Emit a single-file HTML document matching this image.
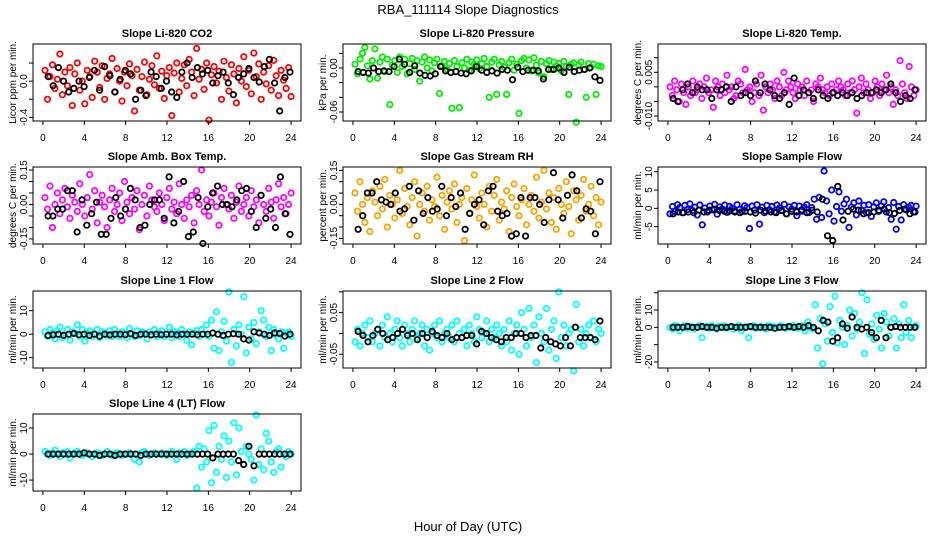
<!DOCTYPE html>
<html><head><meta charset="utf-8"><title>RBA_111114 Slope Diagnostics</title>
<style>
html,body{margin:0;padding:0;background:#fff;}
svg{display:block;font-family:"Liberation Sans",Arial,sans-serif;}
</style></head>
<body>
<svg id="chart" width="936" height="540" viewBox="0 0 936 540" xmlns="http://www.w3.org/2000/svg">
<rect x="0" y="0" width="936" height="540" fill="#fff"/>
<text x="468" y="14" text-anchor="middle" font-size="13">RBA_111114  Slope Diagnostics</text>
<text x="468" y="531" text-anchor="middle" font-size="13">Hour of Day (UTC)</text>
</svg>
<script>
// ---- shared x axis ----
const xTicks = [0,4,8,12,16,20,24];
const xTickLabels = ['0','4','8','12','16','20','24'];

// ---- CO2 ----
const co2Color = [0.12,-0.2,0.05,0.18,-0.08,0.02,0.3,-0.15,0.1,-0.05,0.15,-0.27,0.08,0.2,-0.1,0.0,-0.25,0.12,0.05,-0.18,0.22,0.1,-0.07,0.17,-0.2,0.03,0.08,0.25,-0.12,0.14,0.0,-0.22,0.1,-0.05,0.19,0.06,-0.33,0.13,-0.1,0.05,0.21,-0.15,0.02,0.17,-0.04,0.28,-0.08,0.11,-0.19,0.06,0.15,-0.38,0.09,0.2,-0.12,0.03,0.18,-0.05,0.24,0.1,-0.16,0.36,0.02,0.13,-0.09,0.2,-0.43,0.07,0.16,-0.02,0.11,-0.2,0.22,0.04,-0.11,0.18,0.08,-0.24,0.14,0.0,0.27,-0.06,0.12,-0.14,0.31,0.05,0.19,-0.2,0.1,-0.03,0.17,-0.1,0.23,0.06,-0.16,0.12,0.01,-0.08,0.15,-0.17];
const co2Black = [0.05,-0.05,0.15,0.0,-0.12,-0.08,0.0,-0.06,0.04,0.12,-0.1,0.16,0.06,-0.12,0.02,0.12,0.08,-0.2,-0.1,-0.16,0.1,0.05,-0.08,0.0,-0.12,-0.18,0.1,0.2,0.04,0.15,0.08,0.12,-0.02,0.06,0.1,-0.02,-0.15,0.04,0.08,0.14,0.04,-0.01,0.16,0.24,-0.02,-0.33,0.04,0.1];
const co2Ticks = [-0.4,-0.2,0,0.2];
const co2TickLabels = ['-0.4','','0.0',''];

// ---- Pressure ----
const presColor = [0.005,-0.008,0.012,0.02,0.028,0.003,-0.015,0.01,0.026,-0.014,0.008,0.015,-0.005,0.012,-0.05,0.004,0.01,-0.006,0.015,0.002,0.012,-0.008,0.006,0.013,-0.002,0.01,-0.018,0.008,0.015,0.0,0.011,-0.004,0.007,0.012,-0.035,0.003,0.009,-0.002,0.006,-0.055,0.01,0.002,-0.054,0.007,0.0,0.012,-0.003,0.008,0.005,0.011,-0.001,0.006,0.013,0.002,-0.04,0.008,0.012,-0.036,0.004,0.009,0.001,-0.036,0.007,0.012,-0.003,0.005,-0.062,0.01,0.013,0.0,0.011,-0.004,0.014,0.004,-0.007,0.009,-0.012,0.006,0.01,-0.002,0.008,0.003,0.006,-0.004,0.009,0.002,-0.036,0.005,0.007,-0.074,0.004,0.008,-0.002,-0.04,0.006,0.001,0.005,-0.036,0.003,0.002];
const presBlack = [-0.005,-0.006,-0.007,0.0,-0.005,-0.004,-0.005,0.002,0.012,0.005,-0.006,0.003,-0.007,-0.01,-0.011,-0.008,0.002,-0.004,-0.006,-0.005,-0.007,-0.008,-0.004,0.002,-0.003,-0.006,-0.004,-0.007,-0.002,-0.003,-0.016,0.001,-0.005,-0.003,-0.003,-0.004,-0.015,-0.002,-0.002,0.0,-0.006,0.001,-0.005,-0.003,-0.002,0.0,-0.012,-0.017];
const presTicks = [-0.06,-0.04,-0.02,0,0.02];
const presTickLabels = ['-0.06','','','0.00',''];

// ---- Li-820 Temp (values in 1e-3 degC/min) ----
const tempColor = [0,-3,2,-1,-5,1,-2,-6,0,-3,2,-2,-1,1,-4,0,3,-2,-1,-7,2,0,-3,1,-2,4,-1,0,-4,-3,2,1,-2,6,-1,0,-5,-2,1,-3,4,-8,0,-2,1,-1,-4,2,0,-3,5,-1,2,0,-2,-4,1,-1,0,-3,2,-2,-1,-5,1,0,3,-1,-2,0,-3,1,-2,-1,2,0,-1,-3,1,-2,2,-1,-9,0,3,-2,1,-1,-4,-2,2,0,-3,1,-1,4,-2,0,-6,-1,-3,9,1,-2,-4,7,0,-3,-1];
const tempBlack = [-4,-5,-1,1,-2,0,-1,-1,-4,-1,-1,0,-5,0,-3,-2,-3,2,-2,1,-1,-3,-4,-2,-6,3,-3,-1,-2,-4,-1,-3,-4,-2,-3,-2,-3,-2,-4,-3,-2,-2,-1,-2,-1,1,-2,-5,-3,-4,-1];
const tempTicks = [-0.01,-0.005,0,0.005,0.01];
const tempTickLabels = ['-0.010','','','0.005',''];

// ---- Amb Box Temp (values in 0.01 degC/min) ----
const ambColor = [3,-2,8,-10,0,5,-4,2,7,-1,-6,4,1,-3,9,0,-5,3,13,-2,6,-8,1,4,-1,-10,2,7,-3,0,5,-7,10,1,-4,3,-2,6,-11,0,4,-5,8,2,-1,-3,5,0,-7,3,7,-2,1,-4,9,0,-6,2,-1,4,-8,6,0,15,-3,2,-5,1,5,-1,-9,3,7,0,-2,4,-6,1,8,-3,0,3,-5,6,-1,2,-8,4,0,-3,7,1,-6,2,9,-1,3,-4,0,5];
const ambBlack = [-5,-5,-2,-2,6,6,-12,2,-9,-4,1,-13,-13,-6,3,-5,-2,7,2,-10,-9,0,2,2,-6,12,-8,-3,10,-14,-12,3,-17,-1,5,8,0,0,-1,2,6,7,-3,-10,4,-6,-2,-10,12,-4,-13];
const ambTicks = [-0.15,-0.1,-0.05,0,0.05,0.1,0.15];
const ambTickLabels = ['-0.15','','','0.00','','','0.15'];

// ---- Gas Stream RH (values in 0.01 %/min) ----
const rhColor = [5,-3,10,0,-8,3,-12,6,1,-5,8,-2,11,-10,4,0,-6,2,15,-4,7,-1,-9,3,10,-14,0,5,-3,8,-7,2,-1,12,-5,4,-11,1,6,-2,9,-8,0,3,-16,7,-4,2,13,-1,-6,5,0,-10,8,-3,4,11,-7,1,-2,6,-12,3,9,-1,-5,2,7,-9,0,4,-3,12,-6,1,15,-2,5,-8,3,-11,7,0,-4,10,-1,-13,6,2,-7,4,11,-3,0,8,-5,3,-9,1];
const rhBlack = [-11,-5,5,5,10,2,1,0,5,-3,-2,8,-7,6,-4,3,-3,-2,8,-5,3,-1,5,-11,-4,0,2,-9,6,8,-3,-5,-4,-14,-13,3,-14,3,3,0,-8,2,14,2,-6,4,13,6,-6,-2,-3,-13,10];
const rhTicks = [-0.15,-0.1,-0.05,0,0.05,0.1,0.15];
const rhTickLabels = ['-0.15','','','0.00','','','0.15'];

// ---- Sample Flow ----
const sfColor = [-1.5,0.5,-0.8,1.0,0.2,-1.2,0.8,-0.3,1.2,-0.6,0.3,-1.8,0.9,-4.5,0.1,-1.0,0.6,-0.4,1.1,-1.6,0.4,-0.2,0.9,-1.1,0.5,0.0,-0.7,1.0,-0.3,-0.9,0.7,0.2,-5.5,0.6,-0.5,1.0,-4.3,0.3,-1.2,0.8,-0.4,0.5,-1.0,0.9,0.1,-0.6,1.1,-1.5,0.4,-0.2,0.8,-2.0,0.6,-0.8,0.3,1.0,-1.1,0.2,2.5,-3.0,3.0,-2.5,10.2,2.0,-1.5,5.0,-3.5,0.5,4.5,-0.8,1.2,2.5,-5.2,0.3,1.5,-1.8,2.0,-0.5,0.8,-1.2,1.0,-2.2,0.4,1.5,-0.8,0.6,1.8,-1.0,0.2,-3.0,1.6,-5.7,0.5,-3.2,1.0,-0.4,0.3,0.8,-1.0,0.6];
const sfBlack = [-1.5,-1.0,-1.2,-1.0,-1.2,-0.5,-1.0,-0.5,-0.2,-0.6,-0.8,-0.7,-1.0,-1.2,-0.8,-1.0,-1.3,-0.5,-0.8,-1.0,-1.2,-0.6,-1.5,-0.8,-1.0,-0.4,-1.2,-0.5,-1.0,2.5,-7.5,-8.8,6.0,-3.2,-0.8,-0.2,-0.5,-1.5,-1.2,-1.0,-0.5,-0.2,-1.2,-1.4,-0.6,-0.2,-1.5,-1.0];
const sfTicks = [-5,0,5,10];
const sfTickLabels = ['-5','0','5','10'];

// ---- Line 1 Flow ----
const l1Color = [1,-1,2,0.5,-2,1.5,3,-1.5,0,2,-2.5,1,0.5,4,-1,2,-3,0.5,1.5,-1,0,2,-1.5,1,0.5,-0.5,1.5,-1,2,0,-1,1,0.5,-1.5,2.5,0,-1,1.5,-0.5,1,0.5,-2,1,0,2,-1,0.5,1.5,-1,0,3,-1.5,1,0.5,-1,2,0,-2.5,1,-4.5,0.5,1.5,-1,2,0,4,-1,6,-6,9.5,-7,1,5.5,-3,18,-12,2,-5,4,0,16,-8,3,-2,5,-4,1,10,6,-1,3,-7,2,0,-2,1,-6,0.5,1,-1];
const l1Black = [-0.5,-0.3,0,-0.5,0,0.3,-0.2,0,-0.5,0,-0.8,0,-0.3,0,0,-0.2,0.2,-0.5,0,0,-0.3,0,-0.2,0,0,-0.3,0,0,0,-0.2,0,0,0.5,0,-0.5,0,0.2,0,-2,-2.5,1,0.5,0,-0.5,0.5,0.3,-0.8,0];
const l1Ticks = [-10,0,10];
const l1TickLabels = ['-10','0','10'];

// ---- Line 2 Flow (values in 0.01) ----
const l2Color = [-2,1,-3,0,2,-1,3,-2,0,1,-3,2,-1,4,0,-2,1,3,-1,-3,2,0,-2,1,3,-1,0,2,-3,1,-4,0,2,-1,3,-2,0,1,-1,2,-2,3,0,-1,1,-3,2,0,-2,4,1,-1,0,3,-2,1,-1,2,0,-3,1,-2,3,-4,0,2,-5,5,1,-3,6,-1,2,-7,4,0,-2,6,-4,1,3,-6,10,-1,2,-3,0,1,-9,7,-2,1,-3,0,2,-1,3,-2,1,0];
const l2Black = [0.5,-0.5,-2,-0.5,1,0,-1.5,-1,0,1,-0.5,0,-1.5,0,-1,0.5,-0.5,-1,0,-1.5,-1,-1,-0.5,-0.5,-2.5,0.5,0,-1,-1.5,-2,-1,-1,0,0,-1,-0.5,-0.5,-3.5,-1,-2,-2.5,-3,-1,-3,1.5,-1,-1,-1,-1.5,3];
const l2Ticks = [-0.05,0,0.05,0.1];
const l2TickLabels = ['-0.05','','0.05',''];

// ---- Line 3 Flow ----
const l3Color = [0,-1,1,0.5,-2,0,1,-0.5,0.5,0,-1,0,1,-6,0,0.5,-0.5,1,0,-1,0.5,0,1,-0.5,0,0.5,-1,0,1,-2,0,0.5,-6,0,1,-0.5,0,0.5,0,-1,1,0,0.5,-0.5,0,1,0,-0.5,0.5,0,1,0,-0.5,0.5,1,-2,3,0,-1,13,-12,5,-21,2,-8,12,-3,18,-9,4,0,-10,1,10,-5,8,-1,3,20,-15,16,-4,2,-7,7,-1,-12,8,3,-5,0,5,-12,2,-6,13,-3,4,-6,0,1];
const l3Black = [0,0,0,0.5,0,0,0.5,0,0,-0.5,0,0,0.5,0,0,0,0.5,0,0,0,0,-0.5,0,0,0.5,0,0.5,0,1,0,-2,4,3,-8,-6,2,-0.5,6,0,-1,0,-3,-6,4,-6,0,0.5,0,0,0,0];
const l3Ticks = [-20,-10,0,10,20];
const l3TickLabels = ['-20','','0','10',''];

// ---- Line 4 (LT) Flow ----
const l4Color = [1,0,-0.5,0.5,1.5,0,-1,0.5,0,1,-1.5,0,0.5,1,0,-0.5,0,0.5,0,-1,0,0.5,0,-0.5,0,1,0,-0.5,0,0.5,0,-0.5,0,0,0.5,0,-2,0,-3,0.5,1,0,-0.5,0,0.5,0,0,0.5,0,-0.5,0,1,0,-2,0.5,0,1,-0.5,0,0.5,1,-13,3,-5,2,-3,9,-11,11,-7,3,-2,7,-9,5,-3,12,-8,10,1,-4,3,0,-2,-10,15,-4,2,-6,8,5,-3,-7,1,2,-5,0,-1,1,0];
const l4Black = [0,0,0,0,0,0,0,0.5,0,0,-0.5,0,0,-0.5,0,0,0,0,-0.5,0,0,0,0,0,0,0,0,0,0,0,0,0,-1.5,0,0,0,0,-2.5,-4,3,-4.5,0,0,0,0,0,0,0];
const l4Ticks = [-10,0,10];
const l4TickLabels = ['-10','0','10'];

const NS = 'http://www.w3.org/2000/svg';
const svg = document.getElementById('chart');
const colLeft = [33, 343, 658];
const rowTop = [44, 167, 291, 414];
const PW = 268, PH = 77;

const panels = [
 {key:'co2', title:'Slope Li-820 CO2', ylab:'Licor ppm per min.', c:0, r:0, color:'#ff0000', yMin:-0.44, yMax:0.41, cv:co2Color, bv:co2Black, scale:1, ticks:co2Ticks, tl:co2TickLabels},
 {key:'pressure', title:'Slope Li-820 Pressure', ylab:'kPa per min.', c:1, r:0, color:'#00ee00', yMin:-0.0723, yMax:0.0327, cv:presColor, bv:presBlack, scale:1, ticks:presTicks, tl:presTickLabels},
 {key:'licor-temp', title:'Slope Li-820 Temp.', ylab:'degrees C per min.', c:2, r:0, color:'#ff00ff', yMin:-0.0117, yMax:0.0147, cv:tempColor, bv:tempBlack, scale:0.001, ticks:tempTicks, tl:tempTickLabels},
 {key:'amb-box-temp', title:'Slope Amb. Box Temp.', ylab:'degrees C per min.', c:0, r:1, color:'#ff00ff', yMin:-0.172, yMax:0.163, cv:ambColor, bv:ambBlack, scale:0.01, ticks:ambTicks, tl:ambTickLabels},
 {key:'gas-stream-rh', title:'Slope Gas Stream RH', ylab:'percent per min.', c:1, r:1, color:'#ffa000', yMin:-0.175, yMax:0.165, cv:rhColor, bv:rhBlack, scale:0.01, ticks:rhTicks, tl:rhTickLabels},
 {key:'sample-flow', title:'Slope Sample Flow', ylab:'ml/min per min.', c:2, r:1, color:'#0000ff', yMin:-9.75, yMax:11.3, cv:sfColor, bv:sfBlack, scale:1, ticks:sfTicks, tl:sfTickLabels},
 {key:'line1-flow', title:'Slope Line 1 Flow', ylab:'ml/min per min.', c:0, r:2, color:'#00ffff', yMin:-14.4, yMax:18.4, cv:l1Color, bv:l1Black, scale:1, ticks:l1Ticks, tl:l1TickLabels},
 {key:'line2-flow', title:'Slope Line 2 Flow', ylab:'ml/min per min.', c:1, r:2, color:'#00ffff', yMin:-0.083, yMax:0.102, cv:l2Color, bv:l2Black, scale:0.01, ticks:l2Ticks, tl:l2TickLabels},
 {key:'line3-flow', title:'Slope Line 3 Flow', ylab:'ml/min per min.', c:2, r:2, color:'#00ffff', yMin:-23.5, yMax:21, cv:l3Color, bv:l3Black, scale:1, ticks:l3Ticks, tl:l3TickLabels},
 {key:'line4-flow', title:'Slope Line 4 (LT) Flow', ylab:'ml/min per min.', c:0, r:3, color:'#00ffff', yMin:-14.2, yMax:15.4, cv:l4Color, bv:l4Black, scale:1, ticks:l4Ticks, tl:l4TickLabels}
];

function mk(tag, attrs, parent){
  const e = document.createElementNS(NS, tag);
  for (const k in attrs) e.setAttribute(k, attrs[k]);
  (parent || svg).appendChild(e);
  return e;
}

panels.forEach(p => {
  const L = colLeft[p.c], T = rowTop[p.r], B = T + PH;
  const xs = h => L + (h + 0.96) / 25.92 * PW;
  const ys = v => T + (p.yMax - v) / (p.yMax - p.yMin) * PH;
  const g = mk('g', {});
  
  

  const title = mk('text', {x: L + PW/2, y: T - 7, 'text-anchor':'middle', 'font-size':11, 'font-weight':'bold'}, g);
  title.textContent = p.title;
  
  

  const yl = mk('text', {x:0, y:0, transform:'translate(' + (L-17) + ',' + (T+PH/2) + ') rotate(-90)', 'text-anchor':'middle', 'font-size':10}, g);
  yl.textContent = p.ylab;
  
  

  const pts = mk('g', {fill:'none', 'stroke-width':1.8}, g);
  
  
  const nC = p.cv.length;
  p.cv.forEach((v, i) => {
    const h = 0.2 + i * 23.8 / (nC - 1);
    const c = mk('circle', {cx: xs(h).toFixed(1), cy: ys(v * p.scale).toFixed(1), r:2.7, stroke:p.color}, pts);
    
    
  });
  const nB = p.bv.length;
  p.bv.forEach((v, i) => {
    const h = 0.5 + i * 23.4 / (nB - 1);
    const c = mk('circle', {cx: xs(h).toFixed(1), cy: ys(v * p.scale).toFixed(1), r:2.7, stroke:'#000'}, pts);
    
    
  });

  const box = mk('rect', {x:L, y:T, width:PW, height:PH, fill:'none', stroke:'#000', 'stroke-width':1}, g);
  
  

  const xa = mk('g', {stroke:'#000', 'stroke-width':1}, g);
  
  
  mk('line', {x1:xs(xTicks[0]), x2:xs(xTicks[xTicks.length-1]), y1:B, y2:B}, xa);
  xTicks.forEach((t, i) => {
    mk('line', {x1:xs(t), x2:xs(t), y1:B, y2:B+4}, xa);
    const tx = mk('text', {x:xs(t), y:B+20, 'text-anchor':'middle', 'font-size':10, stroke:'none', fill:'#000'}, g);
    tx.textContent = xTickLabels[i];
    
    
  });

  const ya = mk('g', {stroke:'#000', 'stroke-width':1}, g);
  
  
  p.ticks.forEach((t, i) => {
    const y = ys(t);
    if (y < T - 0.5 || y > B + 0.5) return;
    mk('line', {x1:L-4, x2:L, y1:y, y2:y}, ya);
    if (p.tl[i]) {
      const tx = mk('text', {x:0, y:0, transform:'translate(' + (L-6) + ',' + y + ') rotate(-90)', 'text-anchor':'middle', 'font-size':10, fill:'#000'}, g);
      tx.textContent = p.tl[i];
      
      
    }
  });
});
</script>
</body></html>
